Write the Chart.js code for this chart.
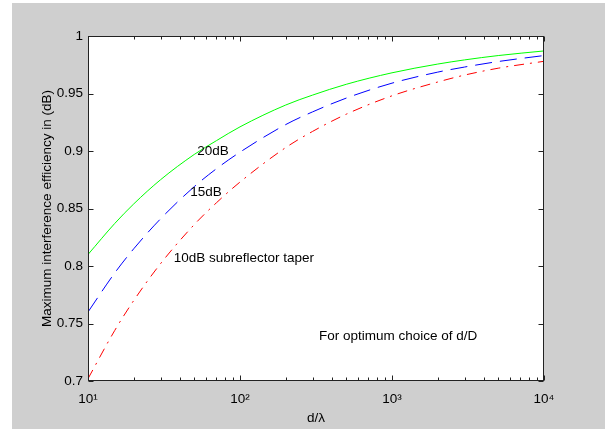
<!DOCTYPE html>
<html>
<head>
<meta charset="utf-8">
<script src="https://cdn.jsdelivr.net/npm/chart.js@4"></script>
<style>
  html, body { margin: 0; padding: 0; background: #ffffff; }
  #frame { position: absolute; left: 12px; top: 3px; width: 593px; height: 426px; background: #cfcfcf; }
  canvas { display: block; }
</style>
</head>
<body>
<div id="frame"><canvas id="chart" width="593" height="426"></canvas></div>
<script>
// d/lambda sample points
const dLambda = [10, 15, 20, 30, 50, 70, 100, 200, 300, 500, 1000, 2000, 3000, 5000, 10000];
const taper20 = [0.810, 0.837, 0.854, 0.875, 0.897, 0.909, 0.921, 0.940, 0.9486, 0.958, 0.968, 0.9756, 0.9792, 0.983, 0.987];
const taper15 = [0.760, 0.794, 0.815, 0.841, 0.869, 0.8846, 0.899, 0.923, 0.934, 0.946, 0.959, 0.9686, 0.973, 0.9778, 0.983];
const taper10 = [0.702, 0.744, 0.770, 0.802, 0.836, 0.855, 0.873, 0.903, 0.917, 0.932, 0.948, 0.960, 0.966, 0.972, 0.978];

const yTicks = [0.7, 0.75, 0.8, 0.85, 0.9, 0.95, 1];
const xMajor = [10, 100, 1000, 10000];
const xMinorSteps = [2, 3, 4, 5, 6, 7, 8, 9];

const noteText = ["20dB", "15dB", "10dB subreflector taper", "For optimum choice of d/D"];
const noteX = [50, 45, 35, 316];
const noteY = [0.9, 0.864, 0.807, 0.7385];

const FONT = '"Liberation Sans", Arial, Helvetica, sans-serif';
const AXIS = "#222222";
const SUP = { 1: "\u00b9", 2: "\u00b2", 3: "\u00b3", 4: "\u2074" };

function pts(ys) {
  return dLambda.map((d, i) => ({ x: d, y: ys[i] }));
}

const boxPlugin = {
  id: "matlabBox",
  beforeDraw(chart) {
    const { ctx, chartArea: a } = chart;
    ctx.save();
    ctx.fillStyle = "#ffffff";
    ctx.fillRect(a.left, a.top, a.right - a.left, a.bottom - a.top);
    ctx.restore();
  },
  afterDraw(chart) {
    const { ctx, chartArea: a, scales } = chart;
    const x = scales.x, y = scales.y;
    const L = Math.round(a.left) + 0.5, R = Math.round(a.right) - 0.5;
    const T = Math.round(a.top) + 0.5, B = Math.round(a.bottom) - 0.5;
    ctx.save();
    ctx.strokeStyle = AXIS;
    ctx.lineWidth = 1;
    ctx.strokeRect(L, T, R - L, B - T);
    ctx.beginPath();
    yTicks.forEach((v) => {
      const py = Math.round(y.getPixelForValue(v)) + 0.5;
      ctx.moveTo(L, py); ctx.lineTo(L + 5, py);
      ctx.moveTo(R, py); ctx.lineTo(R - 5, py);
    });
    xMajor.forEach((m) => {
      const px = Math.round(x.getPixelForValue(m)) + 0.5;
      ctx.moveTo(px, B); ctx.lineTo(px, B - 5);
      ctx.moveTo(px, T); ctx.lineTo(px, T + 5);
      if (m < 10000) {
        xMinorSteps.forEach((s) => {
          const qx = Math.round(x.getPixelForValue(m * s)) + 0.5;
          ctx.moveTo(qx, B); ctx.lineTo(qx, B - 3);
          ctx.moveTo(qx, T); ctx.lineTo(qx, T + 3);
        });
      }
    });
    ctx.stroke();

    ctx.fillStyle = "#000";
    ctx.font = "13.5px " + FONT;
    ctx.textAlign = "left";
    ctx.textBaseline = "middle";
    noteText.forEach((t, i) => {
      ctx.fillText(t, x.getPixelForValue(noteX[i]) + 3, y.getPixelForValue(noteY[i]));
    });
    ctx.restore();
  },
};

const lineBase = {
  borderWidth: 1,
  pointRadius: 0,
  fill: false,
  cubicInterpolationMode: "monotone",
};

new Chart(document.getElementById("chart"), {
  type: "line",
  data: {
    datasets: [
      { ...lineBase, label: "20dB", data: pts(taper20), borderColor: "#00ff00" },
      { ...lineBase, label: "15dB", data: pts(taper15), borderColor: "#0000ff", borderDash: [17, 8] },
      { ...lineBase, label: "10dB", data: pts(taper10), borderColor: "#ff0000", borderDash: [10, 6, 2, 6] },
    ],
  },
  options: {
    responsive: false,
    animation: false,
    devicePixelRatio: 1,
    layout: { padding: { top: 33, right: 61, left: 0, bottom: 0 } },
    plugins: { legend: { display: false }, tooltip: { enabled: false } },
    scales: {
      x: {
        type: "logarithmic",
        min: 10,
        max: 10000,
        grid: { display: false, drawTicks: false },
        border: { display: false },
        afterBuildTicks: (s) => { s.ticks = xMajor.map((v) => ({ value: v })); },
        afterFit: (s) => { s.height = 48; },
        ticks: {
          autoSkip: false,
          maxRotation: 0,
          padding: 10,
          color: "#000",
          font: { family: FONT, size: 13.5 },
          callback: (v) => "10" + SUP[Math.round(Math.log10(v))],
        },
        title: {
          display: true,
          text: "d/\u03bb",
          color: "#000",
          font: { family: FONT, size: 13.5 },
          padding: { top: 3, bottom: 3 },
        },
      },
      y: {
        type: "linear",
        min: 0.7,
        max: 1,
        grid: { display: false, drawTicks: false },
        border: { display: false },
        afterBuildTicks: (s) => { s.ticks = yTicks.map((v) => ({ value: v })); },
        afterFit: (s) => { s.width = 76; },
        ticks: {
          padding: 5,
          color: "#000",
          font: { family: FONT, size: 13.5 },
          callback: (v) => String(+v.toFixed(2)),
        },
        title: {
          display: true,
          text: "Maximum interference efficiency in (dB)",
          color: "#000",
          font: { family: FONT, size: 13.5 },
          padding: { top: 27, bottom: 0 },
        },
      },
    },
  },
  plugins: [boxPlugin],
});
</script>
</body>
</html>
